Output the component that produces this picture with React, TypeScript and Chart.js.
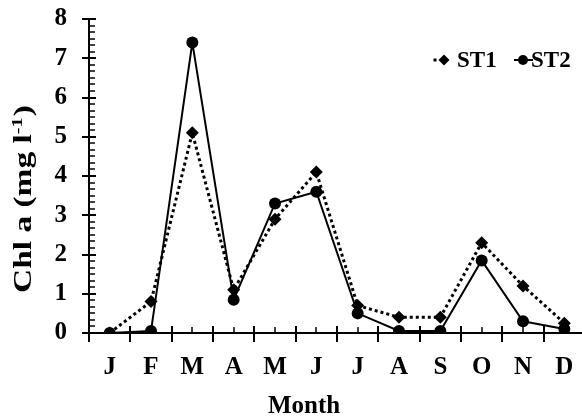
import React, { useEffect, useRef } from 'react';
import { Chart, registerables } from 'chart.js';

Chart.register(...registerables);

const months = ['J', 'F', 'M', 'A', 'M', 'J', 'J', 'A', 'S', 'O', 'N', 'D'];
const st1 = [0, 0.8, 5.1, 1.1, 2.9, 4.1, 0.7, 0.4, 0.4, 2.3, 1.2, 0.25];
const st2 = [0, 0.05, 7.4, 0.85, 3.3, 3.6, 0.5, 0.05, 0.05, 1.85, 0.3, 0.1];
const yMin = 0;
const yMax = 8;
const yMinorPerUnit = 6;
const seriesNames = ['ST1', 'ST2'];
const xTitle = 'Month';
const yTitleMain = 'Chl a (mg l';
const yTitleSup = '-1';
const yTitleEnd = ')';

const FONT = "'Liberation Serif', 'Times New Roman', serif";

const axisTicks = {
  id: 'axisTicks',
  afterDraw(chart: any) {
    const { ctx, chartArea: a, scales } = chart;
    const x = scales.x;
    const y = scales.y;
    ctx.save();
    ctx.strokeStyle = '#000';
    const n = (yMax - yMin) * yMinorPerUnit;
    for (let i = 0; i <= n; i++) {
      const v = yMin + i / yMinorPerUnit;
      const py = Math.round(y.getPixelForValue(v));
      const major = i % yMinorPerUnit === 0;
      ctx.lineWidth = major ? 2 : 1.5;
      ctx.beginPath();
      ctx.moveTo(major ? a.left - 7 : a.left, py);
      ctx.lineTo(a.left + (major ? 7 : 6), py);
      ctx.stroke();
    }
    const by = a.bottom;
    for (let i = 0; i <= months.length; i++) {
      const px = Math.round(x.getPixelForValue(i - 0.5));
      ctx.lineWidth = 2;
      ctx.beginPath();
      ctx.moveTo(px, by - 7);
      ctx.lineTo(px, by + 9);
      ctx.stroke();
    }
    for (let i = 0; i < months.length; i++) {
      const px = Math.round(x.getPixelForValue(i));
      ctx.lineWidth = 1.5;
      ctx.beginPath();
      ctx.moveTo(px, by - 6);
      ctx.lineTo(px, by);
      ctx.stroke();
    }
    ctx.restore();
  },
};

const titlesPlugin = {
  id: 'titlesPlugin',
  afterDraw(chart: any) {
    const { ctx } = chart;
    ctx.save();
    ctx.fillStyle = '#000';
    const mainFont = `bold 25px ${FONT}`;
    const supFont = `bold 15px ${FONT}`;
    // x title
    ctx.font = mainFont;
    ctx.textAlign = 'center';
    ctx.textBaseline = 'alphabetic';
    ctx.fillText(xTitle, 304, 413);
    // y title
    ctx.font = mainFont;
    const w1 = ctx.measureText(yTitleMain).width;
    const w3 = ctx.measureText(yTitleEnd).width;
    ctx.font = supFont;
    const w2 = ctx.measureText(yTitleSup).width;
    const total = w1 + w2 + w3 + 1;
    const s = 188 / total;
    ctx.translate(31, 199);
    ctx.rotate(-Math.PI / 2);
    ctx.scale(s, 1);
    ctx.textAlign = 'left';
    let px = -total / 2;
    ctx.font = mainFont;
    ctx.fillText(yTitleMain, px, 0);
    px += w1;
    ctx.font = supFont;
    ctx.fillText(yTitleSup, px, -9);
    px += w2 + 1;
    ctx.font = mainFont;
    ctx.fillText(yTitleEnd, px, 0);
    ctx.restore();
  },
};

const customLegend = {
  id: 'customLegend',
  afterDraw(chart: any) {
    const { ctx } = chart;
    ctx.save();
    ctx.fillStyle = '#000';
    ctx.strokeStyle = '#000';
    ctx.font = `bold 23px ${FONT}`;
    ctx.textBaseline = 'alphabetic';
    ctx.textAlign = 'left';
    const cy = 60;
    const base = 67;
    ctx.fillRect(433.5, cy - 1.5, 3, 3);
    ctx.beginPath();
    ctx.moveTo(444, cy - 5.5);
    ctx.lineTo(449.5, cy);
    ctx.lineTo(444, cy + 5.5);
    ctx.lineTo(438.5, cy);
    ctx.closePath();
    ctx.fill();
    ctx.fillText(seriesNames[0], 457, base);
    ctx.lineWidth = 2;
    ctx.beginPath();
    ctx.moveTo(514, cy);
    ctx.lineTo(533, cy);
    ctx.stroke();
    ctx.beginPath();
    ctx.arc(523, cy, 5, 0, Math.PI * 2);
    ctx.fill();
    ctx.fillText(seriesNames[1], 531, base);
    ctx.restore();
  },
};

export default function App() {
  const ref = useRef<HTMLCanvasElement>(null);

  useEffect(() => {
    document.body.style.margin = '0';
    const canvas = ref.current;
    if (!canvas) return;
    const chart = new Chart(canvas, {
      type: 'line',
      data: {
        labels: months,
        datasets: [
          {
            label: seriesNames[0],
            data: st1,
            borderColor: '#000',
            backgroundColor: '#000',
            borderWidth: 3,
            borderDash: [3, 3],
            pointStyle: 'rectRot',
            pointRadius: 6.5,
            pointBorderWidth: 0,
            tension: 0,
            fill: false,
          },
          {
            label: seriesNames[1],
            data: st2,
            borderColor: '#000',
            backgroundColor: '#000',
            borderWidth: 2,
            pointStyle: 'circle',
            pointRadius: 6,
            pointBorderWidth: 0,
            tension: 0,
            fill: false,
          },
        ],
      },
      options: {
        animation: false,
        responsive: false,
        maintainAspectRatio: false,
        layout: { autoPadding: false, padding: { top: 19, right: 1, left: 0, bottom: 0 } },
        plugins: {
          legend: { display: false },
          tooltip: { enabled: false },
        },
        scales: {
          x: {
            type: 'category',
            offset: true,
            grid: { display: false, drawTicks: false },
            border: { display: true, color: '#000', width: 2 },
            ticks: {
              color: '#000',
              font: { family: FONT, size: 25, weight: 'bold' },
              padding: 20,
              maxRotation: 0,
              autoSkip: false,
            },
            title: { display: false },
            afterFit(scale: any) {
              scale.height = 85;
              scale.paddingLeft = 0;
              scale.paddingRight = 0;
            },
          },
          y: {
            min: yMin,
            max: yMax,
            grid: { display: false, drawTicks: false },
            border: { display: true, color: '#000', width: 2 },
            ticks: {
              stepSize: 1,
              color: '#000',
              font: { family: FONT, size: 25, weight: 'bold' },
              padding: 22,
            },
            title: { display: false },
            afterFit(scale: any) {
              scale.width = 89;
              scale.paddingTop = 0;
              scale.paddingBottom = 0;
            },
          },
        },
      },
      plugins: [axisTicks, titlesPlugin, customLegend],
    });
    return () => chart.destroy();
  }, []);

  return (
    <div style={{ position: 'fixed', left: 0, top: 0, width: 582, height: 418, background: '#fff', overflow: 'hidden' }}>
      <canvas ref={ref} width={586} height={418} style={{ width: 586, height: 418, display: 'block' }} />
    </div>
  );
}
